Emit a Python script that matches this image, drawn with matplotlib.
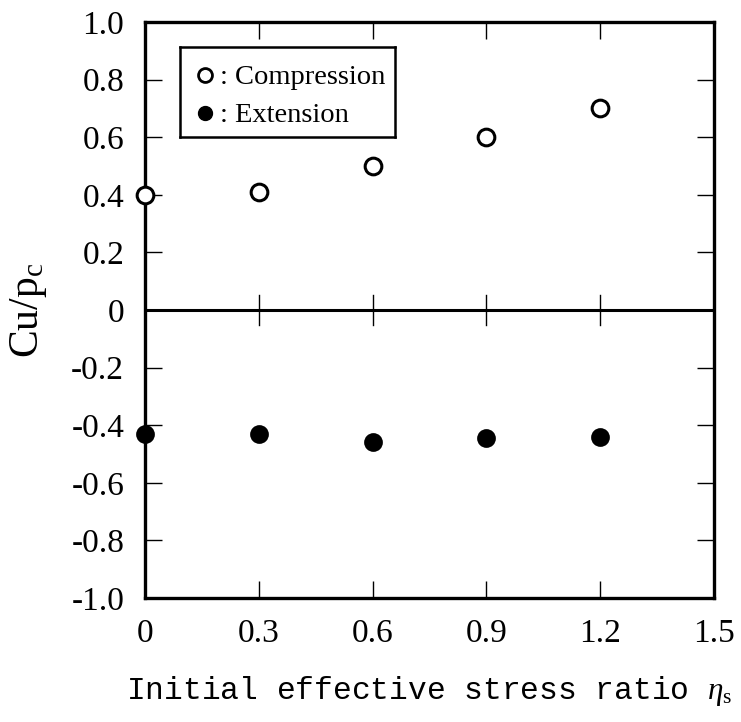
import matplotlib
matplotlib.use("Agg")
import matplotlib.pyplot as plt

plt.rcParams["mathtext.fontset"] = "custom"
plt.rcParams["mathtext.rm"] = "Liberation Serif"
plt.rcParams["mathtext.it"] = "Liberation Serif:italic"

# stress ratio values
eta = [0.0, 0.3, 0.6, 0.9, 1.2]
comp = [0.40, 0.41, 0.50, 0.60, 0.70]
ext = [-0.43, -0.43, -0.46, -0.445, -0.44]

xticks = [0, 0.3, 0.6, 0.9, 1.2, 1.5]
xlabels = ["0", "0.3", "0.6", "0.9", "1.2", "1.5"]
yticks = [-1.0, -0.8, -0.6, -0.4, -0.2, 0, 0.2, 0.4, 0.6, 0.8, 1.0]
ylabels = ["-1.0", "-0.8", "-0.6", "-0.4", "-0.2", "0", "0.2", "0.4", "0.6", "0.8", "1.0"]

fig = plt.figure(figsize=(7.41, 7.22), dpi=100)
ax = fig.add_axes([145/741, 1-598/722, (714-145)/741, (598-22)/722])

ax.axhline(0, color="black", lw=2.2, zorder=1)
# ticks crossing the zero line
for x in xticks[1:-1]:
    ax.plot([x, x], [-0.052, 0.052], color="black", lw=1.0, zorder=1)

ax.plot(eta, comp, "o", ms=12, mfc="white", mec="black", mew=2.2, clip_on=False, zorder=3)
ax.plot(eta, ext, "o", ms=12, mfc="black", mec="black", mew=1.5, clip_on=False, zorder=3)

ax.set_xlim(0, 1.5)
ax.set_ylim(-1.0, 1.0)
ax.set_xticks(xticks)
ax.set_xticklabels(xlabels, family="Liberation Serif", fontsize=24)
ax.set_yticks(yticks)
ax.set_yticklabels(ylabels, family="Liberation Serif", fontsize=24)
ax.tick_params(direction="in", length=12, width=1.0, top=True, right=True)
ax.tick_params(axis="x", pad=15)
ax.tick_params(axis="y", pad=15)
for s in ax.spines.values():
    s.set_linewidth(2.4)

ax.set_xlabel(r"Initial effective stress ratio $\eta_{\rm s}$", family="Liberation Mono",
              fontsize=22.5, labelpad=18)
ax.set_ylabel(r"Cu/p$_{\rm c}$", family="Liberation Serif", fontsize=30)
ax.yaxis.set_label_coords(-0.168, 0.5)

# legend box
lax = fig.add_axes([180/741, 1-137/722, (395-180)/741, (137-47)/722])
lax.set_xlim(0, 1)
lax.set_ylim(0, 1)
lax.set_xticks([])
lax.set_yticks([])
for s in lax.spines.values():
    s.set_linewidth(1.8)
lax.plot([0.115], [0.69], "o", ms=10, mfc="white", mec="black", mew=2.0)
lax.plot([0.115], [0.27], "o", ms=10, mfc="black", mec="black")
lax.text(0.185, 0.66, ": Compression", family="Liberation Serif", fontsize=20.5, va="center")
lax.text(0.185, 0.24, ": Extension", family="Liberation Serif", fontsize=20.5, va="center")

fig.savefig("out.png", dpi=100)
